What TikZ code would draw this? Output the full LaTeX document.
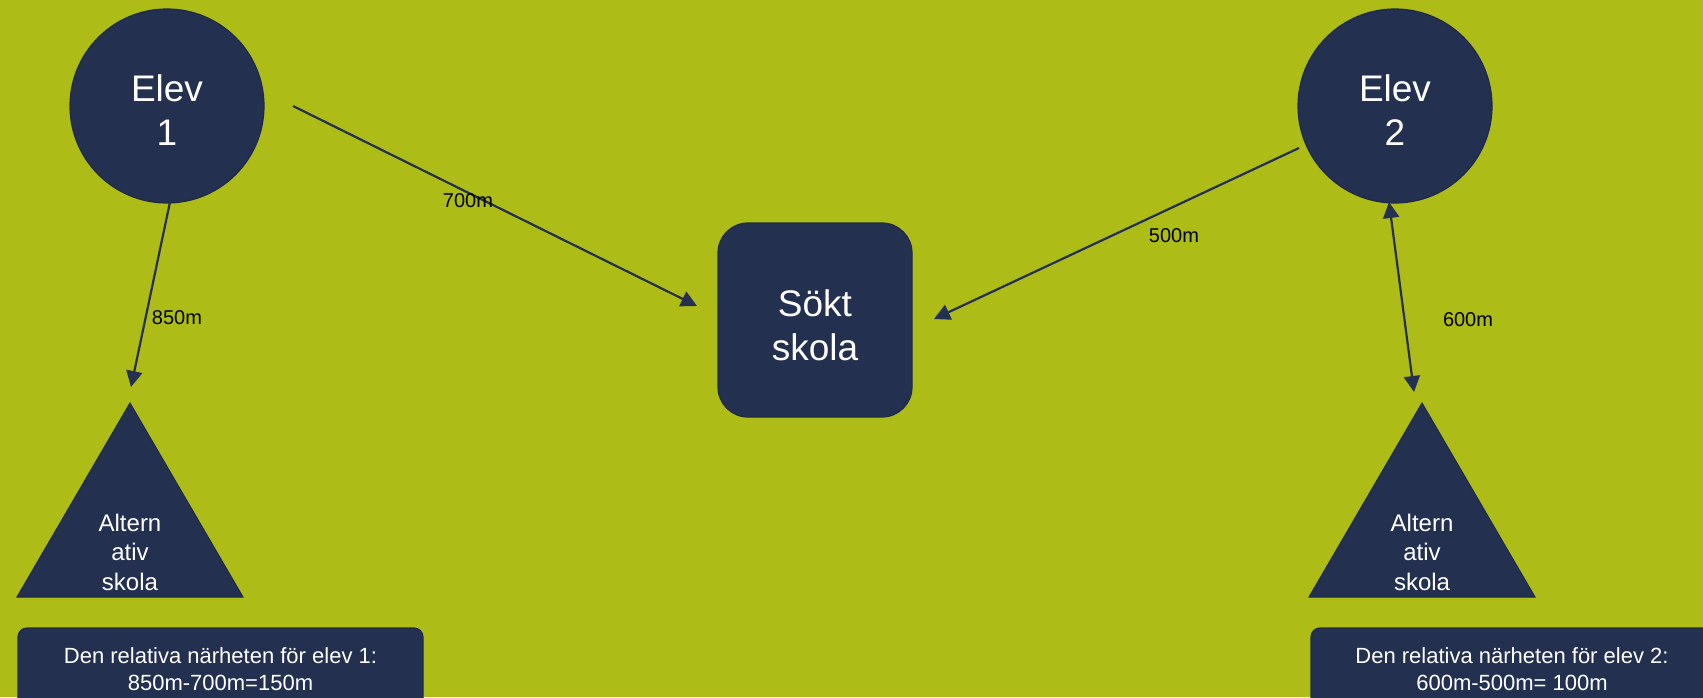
\documentclass[tikz,border=0pt]{standalone}
\usepackage{fontspec}
\setmainfont{Liberation Sans}
\usetikzlibrary{arrows.meta}
\definecolor{bg}{HTML}{ADBC16}
\definecolor{navy}{HTML}{243050}
\definecolor{navyedge}{HTML}{1E2A45}
\tikzset{
  circnode/.style={circle, fill=navy, draw=navyedge, line width=1.2pt, minimum size=194pt, inner sep=0pt},
  schoolbox/.style={rectangle, rounded corners=30pt, fill=navy, draw=navyedge, line width=1.2pt,
    minimum width=194pt, minimum height=194pt, inner sep=0pt},
  bigtext/.style={text=white, align=center, font=\fontsize{37}{44}\selectfont, inner sep=0pt},
  trishape/.style={fill=navy, draw=navyedge, line width=1pt},
  tritext/.style={text=white, align=center, font=\fontsize{24}{29.5}\selectfont, inner sep=0pt},
  infobox/.style={rectangle, rounded corners=9pt, fill=navy, draw=navyedge, line width=1.2pt,
    minimum width=405pt, minimum height=82pt, inner sep=0pt},
  infotext/.style={text=white, align=center, font=\fontsize{22}{27}\selectfont, inner sep=0pt},
  distlbl/.style={text=black, font=\fontsize{20}{24}\selectfont, inner sep=0pt},
  arr/.style={draw=navy, line width=2.2pt, -{Triangle[length=16pt,width=16pt]}},
  darr/.style={draw=navy, line width=2.2pt, {Triangle[length=16pt,width=16pt]}-{Triangle[length=16pt,width=16pt]}}
}
\begin{document}
\begin{tikzpicture}[x=1pt,y=-1pt]
\fill[bg] (0,0) rectangle (1703,697);
\useasboundingbox (0,0) rectangle (1703,697);

% main nodes
\node[circnode] (e1) at (167,106) {};
\node[bigtext] (e1t) at (167,110) {Elev\\1};
\node[circnode] (e2) at (1395,106) {};
\node[bigtext] (e2t) at (1395,110) {Elev\\2};
\node[schoolbox] (sk) at (815,320) {};
\node[bigtext] (skt) at (815,325) {Sökt\\skola};

% triangles
\draw[trishape] (130,403) coordinate (t1apex) -- (243,597) -- (17,597) -- cycle;
\node[tritext] (t1) at (130,552) {Altern\\ativ\\skola};
\draw[trishape] (1422,403) coordinate (t2apex) -- (1535,597) -- (1309,597) -- cycle;
\node[tritext] (t2) at (1422,552) {Altern\\ativ\\skola};

% info boxes
\node[infobox] (b1) at (220.5,669) {};
\node[infotext] (b1t) at (220.5,669) {Den relativa närheten för elev 1:\\850m-700m=150m};
\node[infobox] (b2) at (1513.5,669) {};
\node[infotext] (b2t) at (1512,669) {Den relativa närheten för elev 2:\\600m-500m= 100m};

% connector end points
\coordinate (a1s) at (293,106);
\coordinate (a1e) at (697,306);
\coordinate (a2s) at (170,202);
\coordinate (a2e) at (131,387);
\coordinate (a3s) at (1299,148);
\coordinate (a3e) at (934,319);
\coordinate (a4s) at (1389,202);
\coordinate (a4e) at (1414,392);

\draw[arr] (a1s) -- (a1e);
\draw[arr] (a2s) -- (a2e);
\draw[arr] (a3s) -- (a3e);
\draw[darr] (a4s) -- (a4e);

% distance labels
\node[distlbl] (l700) at (468,201) {700m};
\node[distlbl] (l850) at (177,318) {850m};
\node[distlbl] (l500) at (1174,236) {500m};
\node[distlbl] (l600) at (1468,320) {600m};
\end{tikzpicture}
\end{document}
